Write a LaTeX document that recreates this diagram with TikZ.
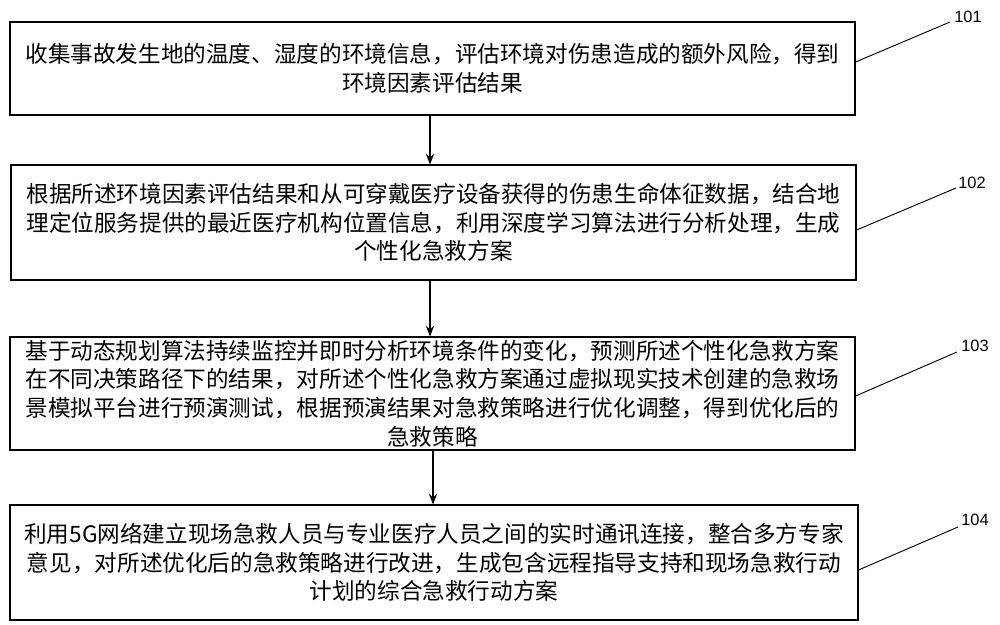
\documentclass[tikz,border=0pt]{standalone}
\usepackage{fontspec}
\setmainfont{Noto Sans CJK SC}
\setsansfont{Liberation Sans}
\usetikzlibrary{arrows.meta}

\begin{document}
\begin{tikzpicture}[x=0.03cm, y=-0.03cm,
		stepbox/.style={draw, line width=0.9pt, minimum width=25.35cm, align=center,
		font=\fontsize{19.3}{24.5}\selectfont, inner sep=0pt},
		flow/.style={-{Stealth[length=9pt,width=7pt]}, line width=1.2pt},
		tag/.style={font=\sffamily\fontsize{14}{14}\selectfont}]

	\useasboundingbox (0,0) rectangle (1000,625);

	% steps
	\node[stepbox, minimum height=2.79cm] (s1) at (432.5,68.5)
		{收集事故发生地的温度、湿度的环境信息，评估环境对伤患造成的额外风险，得到\\环境因素评估结果};
	\node[stepbox, minimum height=3.45cm] (s2) at (433.5,222.5)
		{根据所述环境因素评估结果和从可穿戴医疗设备获得的伤患生命体征数据，结合地\\理定位服务提供的最近医疗机构位置信息，利用深度学习算法进行分析处理，生成\\个性化急救方案};
	\node[stepbox, minimum height=3.39cm] (s3) at (432.5,393.5)
		{基于动态规划算法持续监控并即时分析环境条件的变化，预测所述个性化急救方案\\在不同决策路径下的结果，对所述个性化急救方案通过虚拟现实技术创建的急救场\\景模拟平台进行预演测试，根据预演结果对急救策略进行优化调整，得到优化后的\\急救策略};
	\node[stepbox, minimum height=3.45cm, minimum width=25.44cm] (s4) at (434,562.5)
		{利用5G网络建立现场急救人员与专业医疗人员之间的实时通讯连接，整合多方专家\\意见，对所述优化后的急救策略进行改进，生成包含远程指导支持和现场急救行动\\计划的综合急救行动方案};

	\draw[flow] (s1.south -| 430,0) -- (s2.north -| 430,0);
	\draw[flow] (s2.south -| 430,0) -- (s3.north -| 430,0);
	\draw[flow] (s3.south -| 433,0) -- (s4.north -| 433,0);

	% labels
	\node[tag] (t1) at (968,17) {101};
	\node[tag] (t2) at (972,183) {102};
	\node[tag] (t3) at (975,346) {103};
	\node[tag] (t4) at (975,520) {104};
	\coordinate (c1) at (950,22);
	\coordinate (c2) at (956,188);
	\coordinate (c3) at (957,352);
	\coordinate (c4) at (958,527);
	\draw[line width=0.8pt] (s1.east |- 0,62) -- (c1);
	\draw[line width=0.8pt] (s2.east |- 0,230) -- (c2);
	\draw[line width=0.8pt] (s3.east |- 0,396) -- (c3);
	\draw[line width=0.8pt] (s4.east |- 0,570) -- (c4);
\end{tikzpicture}
\end{document}
